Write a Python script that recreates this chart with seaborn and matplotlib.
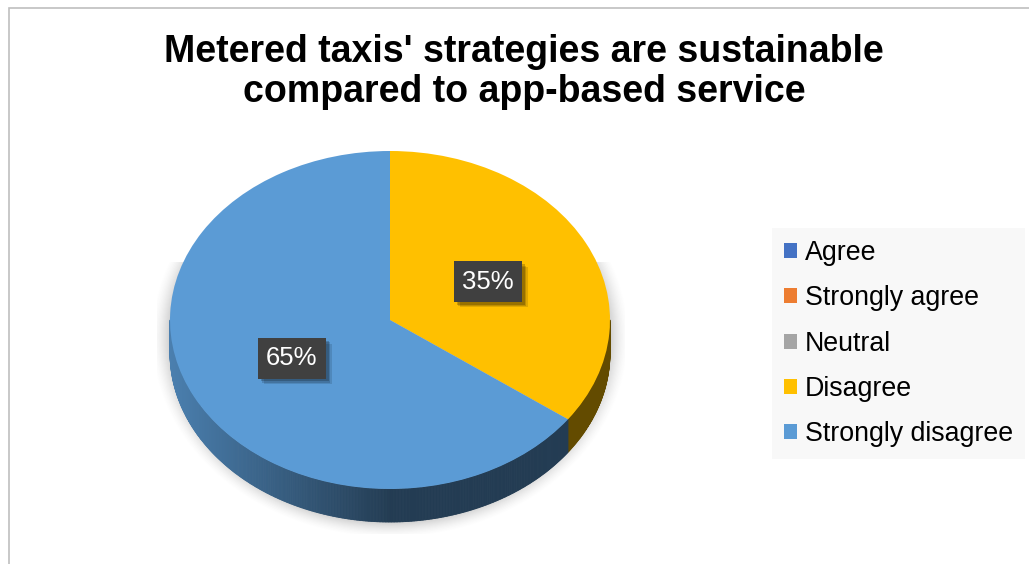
import numpy as np
import matplotlib
matplotlib.use("Agg")
import matplotlib.pyplot as plt
import matplotlib.patheffects as pe
from matplotlib.collections import PolyCollection
from matplotlib.patches import Rectangle
from matplotlib.colors import to_rgb
import seaborn as sns

# Survey responses
categories = ["Agree", "Strongly agree", "Neutral", "Disagree", "Strongly disagree"]
shares = [0, 0, 0, 35, 65]
palette = ["#4472C4", "#ED7D31", "#A5A5A5", "#FFC000", "#5B9BD5"]
title = "Metered taxis' strategies are sustainable\ncompared to app-based service"

sns.set_theme(style="white")
plt.rcParams["font.family"] = ["Liberation Sans", "DejaVu Sans"]

W, H = 1029, 564
fig = plt.figure(figsize=(W / 100, H / 100), dpi=100)
fig.patch.set_facecolor("white")

# outer chart-area border (left and top edges visible)
fig.patches.append(Rectangle((8.5 / W, -0.2), 1.2, 1.2 - 7.5 / H,
                             transform=fig.transFigure, fill=False,
                             edgecolor="#BFBFBF", linewidth=1.2))

# pie axes: 220 px per unit horizontally, 169 px per unit vertically
cx, cy = 390, 320
sx, sy = 220.0, 169.0
xlim = (-1.15, 1.15)
ylim = (-1.4, 1.15)
ax_w = (xlim[1] - xlim[0]) * sx
ax_h = (ylim[1] - ylim[0]) * sy
ax_left = cx + xlim[0] * sx
ax_bottom = (H - cy) + ylim[0] * sy
ax = fig.add_axes([ax_left / W, ax_bottom / H, ax_w / W, ax_h / H])

depth = 33.0 / sy

def fmt(p):
    return f"{p:.0f}%" if p > 0.5 else ""

wedges, texts, autotexts = ax.pie(
    shares, colors=palette, startangle=90, counterclock=False, radius=1.0,
    autopct=fmt, pctdistance=0.5,
    wedgeprops=dict(linewidth=0, zorder=3),
    textprops=dict(color="white", fontsize=18.5, zorder=5),
)
ax.set_aspect("auto")
ax.set_xlim(*xlim)
ax.set_ylim(*ylim)
ax.axis("off")

# soft drop shadow under the pie
gx0, gx1 = (157 - cx) / sx, (625 - cx) / sx
gy0, gy1 = (cy - 534) / sy, (cy - 262) / sy
nx, ny = 480, 280
xs = np.linspace(gx0, gx1, nx)
ys = np.linspace(gy1, gy0, ny)
X, Y = np.meshgrid(xs, ys)
sc = -depth / 2
sb = 1 + depth / 2
d = np.sqrt(X ** 2 + ((Y - sc) / sb) ** 2)
dist_px = (d - 1) * 200
a = np.clip(1 - dist_px / 18.0, 0, 1) ** 1.6 * 0.26
img = np.zeros((ny, nx, 4))
img[..., :3] = 0.25
img[..., 3] = a
ax.imshow(img, extent=(gx0, gx1, gy0, gy1), origin="upper", zorder=0,
          interpolation="bilinear", aspect="auto")

# extruded side of the front half, shaded from left to right
fracs = np.array(shares, dtype=float) / np.sum(shares)
ends = np.cumsum(fracs) * 360.0
starts = ends - fracs * 360.0

def shade(x):
    t = np.clip((x + 1.0) / 1.0, 0, 1)
    return 0.82 - 0.43 * t

polys, cols = [], []
for s, e, c in zip(starts, ends, palette):
    lo, hi = max(s, 90.0), min(e, 270.0)
    if hi <= lo:
        continue
    phis = np.linspace(lo, hi, max(2, int((hi - lo) / 0.4) + 1))
    base = np.array(to_rgb(c))
    for p1, p2 in zip(phis[:-1], phis[1:]):
        r1, r2 = np.radians(p1), np.radians(p2)
        x1, y1 = np.sin(r1), np.cos(r1)
        x2, y2 = np.sin(r2), np.cos(r2)
        polys.append([(x1, y1), (x2, y2), (x2, y2 - depth), (x1, y1 - depth)])
        cols.append(tuple(base * shade((x1 + x2) / 2)))
side = PolyCollection(polys, facecolors=cols, edgecolors=cols, linewidths=0.6, zorder=2)
ax.add_collection(side)

# percentage labels in dark boxes with a soft shadow
for t in autotexts:
    if not t.get_text():
        continue
    t.set_bbox(dict(boxstyle="square,pad=0.32", facecolor="#404040", edgecolor="none"))
    t.get_bbox_patch().set_path_effects([
        pe.SimplePatchShadow(offset=(4, -4), shadow_rgbFace="black", alpha=0.12),
        pe.SimplePatchShadow(offset=(3, -3), shadow_rgbFace="black", alpha=0.15),
        pe.SimplePatchShadow(offset=(2, -2), shadow_rgbFace="black", alpha=0.2),
        pe.Normal(),
    ])

# title
fig.text(524 / W, 1 - 34 / H, title, ha="center", va="top", fontsize=27,
         fontweight="bold", color="black", linespacing=1.14)

# legend
leg = fig.legend(wedges, categories, loc="upper left",
                 bbox_to_anchor=(772 / W, 1 - 228 / H), bbox_transform=fig.transFigure,
                 fontsize=19.3, frameon=True, fancybox=False, framealpha=1,
                 facecolor="#F8F8F8", edgecolor="none",
                 handlelength=0.5, handleheight=0.5, handletextpad=0.28,
                 labelspacing=0.72, borderpad=0.45, borderaxespad=0)
for txt in leg.get_texts():
    txt.set_color("black")

fig.savefig("out.png", dpi=100, facecolor="white")
